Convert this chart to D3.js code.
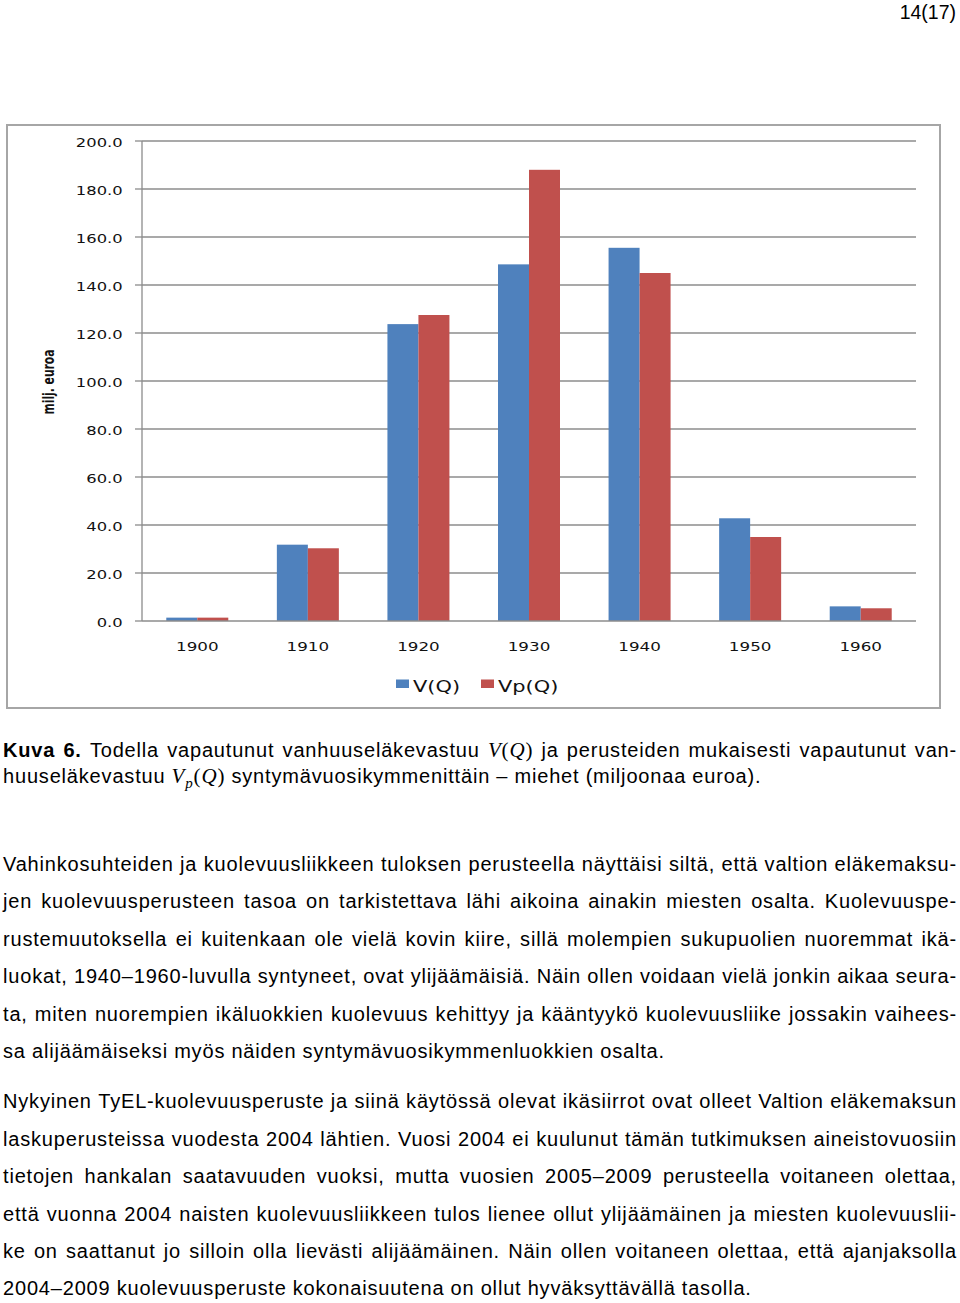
<!DOCTYPE html>
<html>
<head>
<meta charset="UTF-8">
<title>Kuva 6</title>
<style>
  body { margin: 0; background: #fff; }
  svg { display: block; }
  .page text { font-family: "Liberation Sans", Arial, sans-serif; font-size: 20px; fill: #000; }
  .page text.body { letter-spacing: 0.82px; }
  .axis-lbl { font-family: "DejaVu Sans", Verdana, sans-serif; font-size: 12.5px; fill: #111; }
  .legend-lbl { font-family: "DejaVu Sans", Verdana, sans-serif; font-size: 15.5px; fill: #111; }
  .math { font-family: "Liberation Serif", "DejaVu Serif", serif; font-size: 21px; }
</style>
</head>
<body>
<svg width="960" height="1303"></svg>
<script src="https://d3js.org/d3.v7.min.js"></script>
<script>

var years = ["1900", "1910", "1920", "1930", "1940", "1950", "1960"];
var vQ = [1.4, 31.8, 123.7, 148.6, 155.5, 42.8, 6.1];
var vpQ = [1.4, 30.3, 127.5, 188.0, 145.0, 35.0, 5.3];
var seriesNames = ["V(Q)", "Vp(Q)"];
var colors = ["#4F81BD", "#C0504D"];
var yTicks = [0, 20, 40, 60, 80, 100, 120, 140, 160, 180, 200];
var yTitle = "milj. euroa";

var para1 = [
    "Vahinkosuhteiden ja kuolevuusliikkeen tuloksen perusteella näyttäisi siltä, että valtion eläkemaksu-",
    "jen kuolevuusperusteen tasoa on tarkistettava lähi aikoina ainakin miesten osalta. Kuolevuuspe-",
    "rustemuutoksella ei kuitenkaan ole vielä kovin kiire, sillä molempien sukupuolien nuoremmat ikä-",
    "luokat, 1940–1960-luvulla syntyneet, ovat ylijäämäisiä. Näin ollen voidaan vielä jonkin aikaa seura-",
    "ta, miten nuorempien ikäluokkien kuolevuus kehittyy ja kääntyykö kuolevuusliike jossakin vaihees-",
    "sa alijäämäiseksi myös näiden syntymävuosikymmenluokkien osalta."
];
var para2 = [
    "Nykyinen TyEL-kuolevuusperuste ja siinä käytössä olevat ikäsiirrot ovat olleet Valtion eläkemaksun",
    "laskuperusteissa vuodesta 2004 lähtien. Vuosi 2004 ei kuulunut tämän tutkimuksen aineistovuosiin",
    "tietojen hankalan saatavuuden vuoksi, mutta vuosien 2005–2009 perusteella voitaneen olettaa,",
    "että vuonna 2004 naisten kuolevuusliikkeen tulos lienee ollut ylijäämäinen ja miesten kuolevuuslii-",
    "ke on saattanut jo silloin olla lievästi alijäämäinen. Näin ollen voitaneen olettaa, että ajanjaksolla",
    "2004–2009 kuolevuusperuste kokonaisuutena on ollut hyväksyttävällä tasolla."
];

var svg = d3.select("svg");
var page = svg.append("g").attr("class", "page");

// page number
page.append("text")
    .attr("x", 956).attr("y", 19)
    .attr("text-anchor", "end")
    .style("font-size", "19.5px")
    .text("14(17)");

// ---- chart ----
var chart = svg.append("g");

chart.append("rect")
    .attr("x", 7).attr("y", 125)
    .attr("width", 933).attr("height", 583)
    .attr("fill", "#fff")
    .attr("stroke", "#a6a6a6")
    .attr("stroke-width", 2);

var x = d3.scaleBand().domain(years).range([142, 916]);
var y = d3.scaleLinear().domain([0, 200]).range([621, 141]);
var barW = 31;

// gridlines
chart.selectAll(".grid")
    .data(yTicks.filter(function (d) { return d > 0; }))
    .enter().append("line")
    .attr("x1", 142).attr("x2", 916)
    .attr("y1", function (d) { return y(d); })
    .attr("y2", function (d) { return y(d); })
    .attr("stroke", "#8c8c8c").attr("stroke-width", 1.3);

// bars
var groups = chart.selectAll(".yr")
    .data(years)
    .enter().append("g")
    .attr("transform", function (d) { return "translate(" + (x(d) + x.bandwidth() / 2) + ",0)"; });

[vQ, vpQ].forEach(function (vals, s) {
    groups.append("rect")
        .attr("x", s === 0 ? -barW : 0)
        .attr("width", barW)
        .attr("y", function (d, i) { return y(vals[i]); })
        .attr("height", function (d, i) { return y(0) - y(vals[i]); })
        .attr("fill", colors[s]);
});

// axes
chart.append("line")
    .attr("x1", 142).attr("x2", 142).attr("y1", 141).attr("y2", 621)
    .attr("stroke", "#8c8c8c").attr("stroke-width", 1.3);
chart.append("line")
    .attr("x1", 142).attr("x2", 916).attr("y1", 621).attr("y2", 621)
    .attr("stroke", "#8c8c8c").attr("stroke-width", 1.3);

chart.selectAll(".ytick")
    .data(yTicks)
    .enter().append("line")
    .attr("x1", 135).attr("x2", 142)
    .attr("y1", function (d) { return y(d); })
    .attr("y2", function (d) { return y(d); })
    .attr("stroke", "#8c8c8c").attr("stroke-width", 1.3);

chart.selectAll(".ylab")
    .data(yTicks)
    .enter().append("text")
    .attr("class", "axis-lbl")
    .attr("text-anchor", "end")
    .attr("transform", function (d) { return "translate(122.7," + (y(d) + 6.3) + ") scale(1.31,1)"; })
    .text(function (d) { return d.toFixed(1); });

chart.selectAll(".xlab")
    .data(years)
    .enter().append("text")
    .attr("class", "axis-lbl")
    .attr("text-anchor", "middle")
    .attr("transform", function (d) { return "translate(" + (x(d) + x.bandwidth() / 2) + ",651) scale(1.34,1)"; })
    .text(function (d) { return d; });

chart.append("text")
    .attr("transform", "translate(54,382) rotate(-90)")
    .attr("text-anchor", "middle")
    .attr("textLength", 65)
    .attr("lengthAdjust", "spacingAndGlyphs")
    .style("font-family", "'Liberation Sans Narrow', 'DejaVu Sans Condensed', 'Liberation Sans', sans-serif")
    .style("font-weight", "bold")
    .style("font-size", "16px")
    .style("fill", "#111")
    .text(yTitle);

// legend
var legX = [396, 481];
seriesNames.forEach(function (n, i) {
    chart.append("rect")
        .attr("x", legX[i]).attr("y", 679.5)
        .attr("width", 13).attr("height", 8.5)
        .attr("fill", colors[i]);
    chart.append("text")
        .attr("class", "legend-lbl")
        .attr("transform", "translate(" + (legX[i] + 17) + ",691.5) scale(1.35,1)")
        .text(n);
});

// ---- text ----
var X0 = 3, X1 = 957, SPACE = 6.2;

function lineOf(words, yy, justify) {
    var nodes = words.map(function (w) {
        var t = page.append("text").attr("class", "body").attr("y", yy);
        (typeof w === "string" ? [{ t: w }] : w).forEach(function (seg) {
            var ts = t.append("tspan").text(seg.t);
            if (seg.bold) ts.style("font-weight", "bold");
            if (seg.cls) ts.attr("class", seg.cls);
            if (seg.italic) ts.style("font-style", "italic");
            if (seg.size) ts.style("font-size", seg.size);
            if (seg.dy) ts.attr("dy", seg.dy);
        });
        return t;
    });
    var widths = nodes.map(function (n) { return n.node().getComputedTextLength(); });
    var gap = justify ? (X1 - X0 - d3.sum(widths)) / (words.length - 1) : SPACE;
    var cx = X0;
    nodes.forEach(function (n, i) { n.attr("x", cx); cx += widths[i] + gap; });
}

function mathV(sub) {
    var segs = [{ t: "V", cls: "math", italic: true }];
    if (sub) {
        segs.push({ t: "p", cls: "math", italic: true, size: "15px", dy: 5 });
        segs.push({ t: "(", cls: "math", dy: -5 });
    } else {
        segs.push({ t: "(", cls: "math" });
    }
    segs.push({ t: "Q", cls: "math", italic: true });
    segs.push({ t: ")", cls: "math" });
    return segs;
}

var cap1 = [[{ t: "Kuva", bold: true }], [{ t: "6.", bold: true }]]
    .concat("Todella vapautunut vanhuuseläkevastuu".split(" "))
    .concat([mathV(false)])
    .concat("ja perusteiden mukaisesti vapautunut van-".split(" "));
var cap2 = ["huuseläkevastuu", mathV(true)]
    .concat("syntymävuosikymmenittäin – miehet (miljoonaa euroa).".split(" "));

lineOf(cap1, 756.5, true);
lineOf(cap2, 782.5, false);

para1.forEach(function (l, i) {
    lineOf(l.split(" "), 871 + i * 37.4, i < para1.length - 1);
});
para2.forEach(function (l, i) {
    lineOf(l.split(" "), 1108.3 + i * 37.4, i < para2.length - 1);
});

</script>
</body>
</html>
